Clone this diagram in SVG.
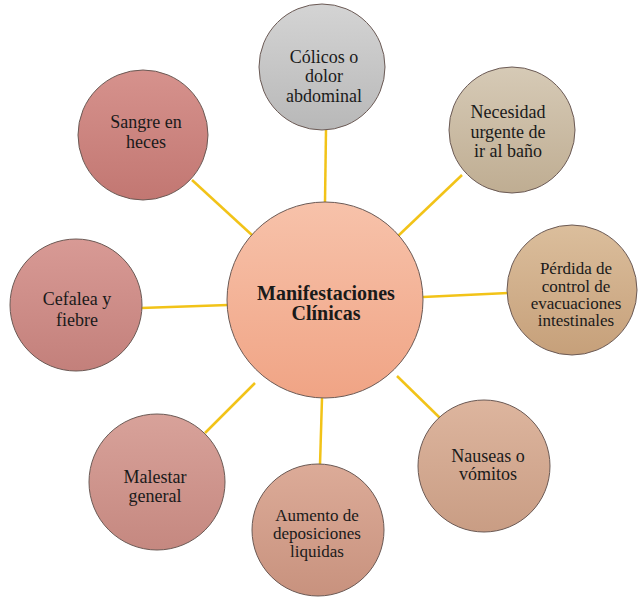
<svg xmlns="http://www.w3.org/2000/svg" width="638" height="597" viewBox="0 0 638 597">
<style>
.n{stroke:#6b5a55;stroke-width:1}
.t{font-family:'Liberation Serif','DejaVu Serif',serif;font-size:18px;fill:#1a1a1a;text-anchor:middle}
.s{font-size:17px}
.b{font-weight:bold;font-size:20px}
.c{stroke:#F2C318;stroke-width:2.5;fill:none}
</style>
<defs>
<linearGradient id="gc" x1="0" y1="0" x2="0" y2="1"><stop offset="0" stop-color="#F7C2AA"/><stop offset="1" stop-color="#F0A485"/></linearGradient>
<linearGradient id="g1" x1="0" y1="0" x2="0" y2="1"><stop offset="0" stop-color="#D4D4D4"/><stop offset="1" stop-color="#B8B8B8"/></linearGradient>
<linearGradient id="g2" x1="0" y1="0" x2="0" y2="1"><stop offset="0" stop-color="#D6CAB6"/><stop offset="1" stop-color="#BFAD92"/></linearGradient>
<linearGradient id="g3" x1="0" y1="0" x2="0" y2="1"><stop offset="0" stop-color="#DBBE9C"/><stop offset="1" stop-color="#C6A07A"/></linearGradient>
<linearGradient id="g4" x1="0" y1="0" x2="0" y2="1"><stop offset="0" stop-color="#DDB59E"/><stop offset="1" stop-color="#C99D84"/></linearGradient>
<linearGradient id="g5" x1="0" y1="0" x2="0" y2="1"><stop offset="0" stop-color="#DCAB98"/><stop offset="1" stop-color="#C8927E"/></linearGradient>
<linearGradient id="g6" x1="0" y1="0" x2="0" y2="1"><stop offset="0" stop-color="#D8A29A"/><stop offset="1" stop-color="#C58880"/></linearGradient>
<linearGradient id="g7" x1="0" y1="0" x2="0" y2="1"><stop offset="0" stop-color="#D89A95"/><stop offset="1" stop-color="#C3807B"/></linearGradient>
<linearGradient id="g8" x1="0" y1="0" x2="0" y2="1"><stop offset="0" stop-color="#D6928D"/><stop offset="1" stop-color="#C27772"/></linearGradient>
</defs>
<g id="connectors">
<line class="c" x1="326" y1="130" x2="325" y2="202"/>
<line class="c" x1="462" y1="175" x2="398" y2="236"/>
<line class="c" x1="423" y1="297" x2="508" y2="293"/>
<line class="c" x1="397" y1="376" x2="440" y2="418"/>
<line class="c" x1="322" y1="398" x2="320" y2="465"/>
<line class="c" x1="205" y1="433" x2="255" y2="383"/>
<line class="c" x1="141" y1="308" x2="228" y2="305"/>
<line class="c" x1="192" y1="180" x2="253" y2="236"/>
</g>
<g id="center">
<circle class="n" cx="325" cy="300" r="98" fill="url(#gc)"/>
<text class="t b" x="326" y="300" font-family="Liberation Serif, DejaVu Serif, serif">Manifestaciones</text>
<text class="t b" x="326" y="320" font-family="Liberation Serif, DejaVu Serif, serif">Clínicas</text>
</g>
<g id="colicos">
<circle class="n" cx="322" cy="67" r="63" fill="url(#g1)"/>
<text class="t" x="324" y="63">Cólicos o</text>
<text class="t" x="324" y="82">dolor</text>
<text class="t" x="324" y="102">abdominal</text>
</g>
<g id="necesidad">
<circle class="n" cx="512" cy="130" r="63" fill="url(#g2)"/>
<text class="t" x="508" y="118">Necesidad</text>
<text class="t" x="508" y="138">urgente de</text>
<text class="t" x="508" y="157">ir al baño</text>
</g>
<g id="perdida">
<circle class="n" cx="572" cy="290" r="65" fill="url(#g3)"/>
<text class="t s" x="576" y="274">Pérdida de</text>
<text class="t s" x="576" y="292">control de</text>
<text class="t s" x="576" y="309">evacuaciones</text>
<text class="t s" x="576" y="326">intestinales</text>
</g>
<g id="nauseas">
<circle class="n" cx="484" cy="466" r="66" fill="url(#g4)"/>
<text class="t" x="488" y="462">Nauseas o</text>
<text class="t" x="488" y="480">vómitos</text>
</g>
<g id="aumento">
<circle class="n" cx="318" cy="530" r="66" fill="url(#g5)"/>
<text class="t s" x="317" y="521">Aumento de</text>
<text class="t s" x="317" y="539">deposiciones</text>
<text class="t s" x="317" y="557">liquidas</text>
</g>
<g id="malestar">
<circle class="n" cx="157" cy="482" r="68" fill="url(#g6)"/>
<text class="t" x="155" y="483">Malestar</text>
<text class="t" x="155" y="502">general</text>
</g>
<g id="cefalea">
<circle class="n" cx="76" cy="305" r="66" fill="url(#g7)"/>
<text class="t" x="77" y="305">Cefalea y</text>
<text class="t" x="77" y="326">fiebre</text>
</g>
<g id="sangre">
<circle class="n" cx="143" cy="135" r="65" fill="url(#g8)"/>
<text class="t" x="146" y="128">Sangre en</text>
<text class="t" x="146" y="148">heces</text>
</g>
</svg>
